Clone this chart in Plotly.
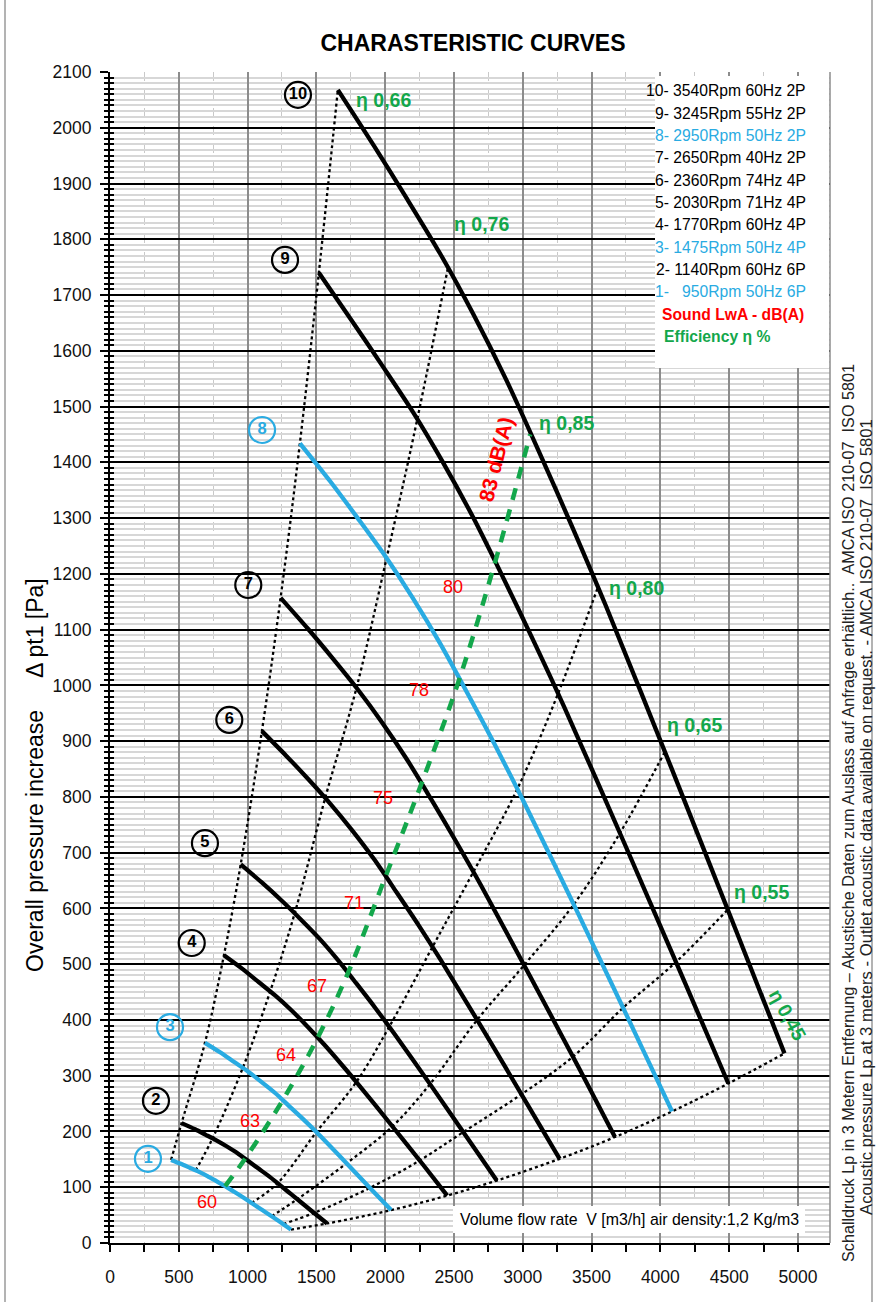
import subprocess
import plotly.graph_objects as go

# ---------------- data ----------------
# fan curves: volume flow Q [m3/h] and pressure pt1 [Pa]
q1 = [444, 515, 580, 644, 708, 773, 837, 902, 966, 1095, 1224, 1315]
p1 = [149, 142, 135, 128, 120, 111, 102, 92, 82, 61, 40, 24]
q2 = [520, 618, 696, 773, 850, 927, 1005, 1082, 1159, 1314, 1468, 1578]
p2 = [215, 204, 194, 184, 173, 161, 147, 133, 119, 88, 57, 35]
q3 = [690, 800, 900, 1000, 1100, 1200, 1300, 1400, 1500, 1700, 1900, 2043]
p3 = [359, 342, 325, 308, 289, 269, 246, 223, 199, 148, 96, 59]
q4 = [828, 960, 1080, 1200, 1320, 1440, 1560, 1680, 1800, 2040, 2280, 2451]
p4 = [516, 492, 468, 444, 417, 387, 355, 321, 286, 213, 139, 85]
q5 = [950, 1101, 1239, 1376, 1514, 1651, 1789, 1927, 2064, 2340, 2615, 2811]
p5 = [679, 647, 616, 583, 548, 509, 466, 422, 376, 280, 182, 112]
q6 = [1104, 1280, 1440, 1600, 1760, 1920, 2080, 2240, 2400, 2720, 3040, 3268]
p6 = [918, 874, 832, 788, 740, 688, 630, 571, 509, 379, 246, 151]
q7 = [1240, 1437, 1617, 1797, 1976, 2156, 2336, 2515, 2695, 3054, 3414, 3670]
p7 = [1157, 1102, 1049, 994, 934, 868, 795, 720, 642, 478, 311, 190]
q8 = [1380, 1600, 1800, 2000, 2200, 2400, 2600, 2800, 3000, 3400, 3800, 4085]
p8 = [1434, 1366, 1300, 1232, 1157, 1075, 985, 892, 795, 592, 385, 236]
q9 = [1518, 1760, 1980, 2200, 2420, 2640, 2860, 3080, 3300, 3740, 4180, 4494]
p9 = [1740, 1653, 1573, 1491, 1400, 1301, 1192, 1079, 962, 716, 466, 286]
q10 = [1656, 1920, 2160, 2400, 2640, 2880, 3120, 3360, 3600, 4080, 4560, 4902]
p10 = [2068, 1967, 1872, 1774, 1666, 1548, 1418, 1284, 1145, 852, 554, 340]

# efficiency lines (points where they cross curves 1..10)
eta066_q = [444, 520, 690, 828, 950, 1104, 1240, 1380, 1518, 1656]
eta066_p = [149, 215, 359, 516, 679, 918, 1157, 1434, 1740, 2068]
eta076_q = [622, 746, 965, 1164, 1342, 1564, 1792, 2010, 2233, 2456]
eta076_p = [130, 188, 314, 451, 591, 798, 996, 1228, 1477, 1749]
eta080_q = [1030, 1217, 1500, 1791, 2030, 2344, 2640, 2960, 3256, 3546]
eta080_p = [72, 107, 199, 289, 388, 531, 665, 814, 985, 1176]
eta065_q = [1175, 1364, 1720, 2052, 2326, 2668, 3009, 3370, 3706, 4033]
eta065_p = [48, 79, 143, 209, 285, 400, 498, 607, 735, 881]
eta055_q = [1259, 1484, 1890, 2250, 2568, 2992, 3364, 3730, 4114, 4490]
eta055_p = [34, 54, 99, 148, 199, 267, 334, 422, 504, 598]
eta045_q = [1315, 1578, 2043, 2451, 2811, 3268, 3670, 4085, 4494, 4902]
eta045_p = [24, 35, 59, 85, 112, 151, 190, 236, 286, 340]
# best-efficiency / sound line (green dashed)
eta085_q = [837, 982, 1255, 1509, 1731, 2004, 2264, 2540, 2800, 3054]
eta085_p = [102, 151, 256, 368, 485, 658, 824, 1012, 1222, 1450]

# curve number labels
circ_text = ["1", "2", "3", "4", "5", "6", "7", "8", "9", "10"]
circ_q = [276, 334, 436, 594, 690, 867, 1005, 1105, 1272, 1366]
circ_p = [151, 255, 387, 538, 717, 938, 1180, 1458, 1763, 2059]

# sound level labels
db_text = ["60", "63", "64", "67", "71", "75", "78", "80"]
db_q = [703, 1017, 1279, 1502, 1773, 1981, 2248, 2495]
db_p = [74, 218, 338, 461, 610, 798, 992, 1176]
db_top_text = "83 dB(A)"
db_top_q = 2805
db_top_p = 1405

# efficiency labels
eta_text = ["η 0,66", "η 0,76", "η 0,85", "η 0,80", "η 0,65", "η 0,55"]
eta_q = [1986, 2701, 3321, 3828, 4251, 4736]
eta_p = [2050, 1827, 1471, 1174, 929, 630]
eta045_text = "η 0,45"
eta045_lq = 4927
eta045_lp = 409

legend_lines = ["10- 3540Rpm 60Hz 2P", "9- 3245Rpm 55Hz 2P", "8- 2950Rpm 50Hz 2P",
                "7- 2650Rpm 40Hz 2P", "6- 2360Rpm 74Hz 4P", "5- 2030Rpm 71Hz 4P",
                "4- 1770Rpm 60Hz 4P", "3- 1475Rpm 50Hz 4P", "2- 1140Rpm 60Hz 6P",
                "1-\u00a0\u00a0 950Rpm 50Hz 6P"]

x_ticks = [0, 500, 1000, 1500, 2000, 2500, 3000, 3500, 4000, 4500, 5000]

# ---------------- styling ----------------
BLACK = "#000000"
BLUE = "#29ABE2"
GREEN = "#13A74B"
RED = "#FF0000"

try:
    fams = subprocess.run(["fc-list", ":", "family"], capture_output=True, text=True).stdout
except Exception:
    fams = ""
HAS_NARROW = "Liberation Sans Narrow" in fams
BASE = "Liberation Sans, Arial, sans-serif"
NARROW = "Liberation Sans Narrow, Liberation Sans, Arial, sans-serif" if HAS_NARROW else BASE
LEG_SIZE = 18.5 if HAS_NARROW else 15.7

W, H = 876, 1302
L, R, T, B = 110, 46, 72, 59
PW, PH = W - L - R, H - T - B


def px_x(px):
    return (px - L) / PW


def px_y(py):
    return (H - B - py) / PH


fig = go.Figure()

# efficiency (dotted) lines
for qq, pp in [(eta066_q, eta066_p), (eta076_q, eta076_p), (eta080_q, eta080_p),
               (eta065_q, eta065_p), (eta055_q, eta055_p), (eta045_q, eta045_p)]:
    fig.add_trace(go.Scatter(x=qq, y=pp, mode="lines",
                             line=dict(color=BLACK, width=2.3, dash="dot", shape="spline"),
                             hoverinfo="skip"))

# fan curves
curves = [(q1, p1, BLUE), (q2, p2, BLACK), (q3, p3, BLUE), (q4, p4, BLACK), (q5, p5, BLACK),
          (q6, p6, BLACK), (q7, p7, BLACK), (q8, p8, BLUE), (q9, p9, BLACK), (q10, p10, BLACK)]
for qq, pp, col in curves:
    fig.add_trace(go.Scatter(x=qq, y=pp, mode="lines",
                             line=dict(color=col, width=4.3, shape="spline", smoothing=0.8),
                             hoverinfo="skip"))

# green dashed best-efficiency line
fig.add_trace(go.Scatter(x=eta085_q, y=eta085_p, mode="lines",
                         line=dict(color=GREEN, width=4.5, dash="12px,10px", shape="spline"),
                         hoverinfo="skip"))

# circled curve numbers
circ_cols = [BLUE if t in ("1", "3", "8") else BLACK for t in circ_text]
fig.add_trace(go.Scatter(x=circ_q, y=circ_p, mode="markers+text",
                         text=["<b>%s</b>" % t for t in circ_text],
                         textposition="middle center",
                         textfont=dict(size=16.5, color=circ_cols, family=BASE),
                         marker=dict(symbol="circle-open", size=26, color=circ_cols,
                                     line=dict(width=2.2, color=circ_cols)),
                         hoverinfo="skip"))

# dummy trace for the inner tick axis
fig.add_trace(go.Scatter(x=[None], y=[None], yaxis="y2", showlegend=False, hoverinfo="skip"))

annotations = []
for t, q, p in zip(db_text, db_q, db_p):
    annotations.append(dict(x=q, y=p, xref="x", yref="y", text=t, showarrow=False,
                            xanchor="center", yanchor="middle",
                            font=dict(size=18, color=RED, family=BASE)))
annotations.append(dict(x=db_top_q, y=db_top_p, xref="x", yref="y", text="<b>%s</b>" % db_top_text,
                        showarrow=False, textangle=-76, xanchor="center", yanchor="middle",
                        font=dict(size=21, color=RED, family=BASE)))
for t, q, p in zip(eta_text, eta_q, eta_p):
    annotations.append(dict(x=q, y=p, xref="x", yref="y", text="<b>%s</b>" % t, showarrow=False,
                            xanchor="center", yanchor="middle",
                            font=dict(size=19.5, color=GREEN, family=BASE)))
annotations.append(dict(x=eta045_lq, y=eta045_lp, xref="x", yref="y", text="<b>%s</b>" % eta045_text,
                        showarrow=False, textangle=61, xanchor="center", yanchor="middle",
                        font=dict(size=19.5, color=GREEN, family=BASE)))

# legend box text
leg_cols = [BLACK, BLACK, BLUE, BLACK, BLACK, BLACK, BLACK, BLUE, BLACK, BLUE]
for i, (t, c) in enumerate(zip(legend_lines, leg_cols)):
    annotations.append(dict(x=px_x(808), y=px_y(91 + 22.3 * i), xref="paper", yref="paper",
                            xanchor="right", yanchor="middle", text=t, showarrow=False,
                            font=dict(size=LEG_SIZE, color=c, family=NARROW)))
annotations.append(dict(x=px_x(806), y=px_y(91 + 22.3 * 10), xref="paper", yref="paper",
                        xanchor="right", yanchor="middle", text="<b>Sound LwA - dB(A)</b>",
                        showarrow=False, font=dict(size=LEG_SIZE, color=RED, family=NARROW)))
annotations.append(dict(x=px_x(662), y=px_y(91 + 22.3 * 11), xref="paper", yref="paper",
                        xanchor="left", yanchor="middle", text="<b>Efficiency η %</b>",
                        showarrow=False, font=dict(size=LEG_SIZE, color=GREEN, family=NARROW)))

# x-axis caption box
annotations.append(dict(x=px_x(629), y=px_y(1219), xref="paper", yref="paper",
                        xanchor="center", yanchor="middle",
                        text="Volume flow rate\u00a0 V [m3/h] air density:1,2 Kg/m3", showarrow=False,
                        font=dict(size=LEG_SIZE if HAS_NARROW else 15.9, color=BLACK, family=NARROW)))

# y axis title
annotations.append(dict(x=px_x(35), y=px_y(775), xref="paper", yref="paper", textangle=-90,
                        xanchor="center", yanchor="middle",
                        text="Overall pressure increase\u00a0\u00a0\u00a0\u00a0 Δ pt1 [Pa]", showarrow=False,
                        font=dict(size=23, color=BLACK, family=BASE)))

# right-side vertical notes
annotations.append(dict(x=px_x(848), y=px_y(813), xref="paper", yref="paper", textangle=-90,
                        xanchor="center", yanchor="middle",
                        text="Schalldruck Lp in 3 Metern Entfernung – Akustische Daten zum Auslass auf Anfrage erhältlich..\u00a0 AMCA ISO 210-07\u00a0 ISO 5801",
                        showarrow=False, font=dict(size=16.2, color="#222222", family=BASE)))
annotations.append(dict(x=px_x(866), y=px_y(817), xref="paper", yref="paper", textangle=-90,
                        xanchor="center", yanchor="middle",
                        text="Acoustic pressure Lp at 3 meters - Outlet acoustic data available on request. - AMCA ISO 210-07\u00a0 ISO 5801",
                        showarrow=False, font=dict(size=16.7, color="#222222", family=BASE)))

shapes = [
    dict(type="rect", xref="paper", yref="paper", x0=px_x(655), x1=px_x(829), y0=px_y(368), y1=px_y(76),
         fillcolor="white", line=dict(width=0), layer="above"),
    dict(type="rect", xref="paper", yref="paper", x0=px_x(453), x1=px_x(805), y0=px_y(1233), y1=px_y(1206),
         fillcolor="white", line=dict(width=0), layer="above"),
    dict(type="line", xref="paper", yref="paper", x0=1, x1=1, y0=0, y1=1,
         line=dict(color="#8c8c8c", width=1.5), layer="above"),
    dict(type="line", xref="paper", yref="paper", x0=px_x(5), x1=px_x(5), y0=px_y(1302), y1=px_y(0),
         line=dict(color="#9a9a9a", width=1.5)),
    dict(type="line", xref="paper", yref="paper", x0=px_x(872), x1=px_x(872), y0=px_y(1302), y1=px_y(0),
         line=dict(color="#9a9a9a", width=1.5)),
]

fig.update_layout(
    width=W, height=H,
    margin=dict(l=L, r=R, t=T, b=B),
    paper_bgcolor="white", plot_bgcolor="white",
    showlegend=False,
    font=dict(family=BASE, color=BLACK),
    title=dict(text="<b>CHARASTERISTIC CURVES</b>", x=473 / W, xanchor="center",
               y=1 - 43 / H, yanchor="middle", font=dict(size=23, color=BLACK)),
    xaxis=dict(range=[0, 5233], tickvals=x_ticks, showgrid=True, gridcolor="#8c8c8c", gridwidth=1.5,
               ticks="outside", ticklen=7, tickwidth=1.5, tickcolor=BLACK, ticklabelstandoff=10,
               showline=True, linecolor=BLACK, linewidth=2, zeroline=False,
               tickfont=dict(size=17.5, color="#111111"),
               minor=dict(dtick=250, tick0=0, ticks="outside", ticklen=7, tickcolor=BLACK,
                          showgrid=True, gridcolor="#c9c9c9", griddash="dash", gridwidth=1.2)),
    yaxis=dict(range=[0, 2100], dtick=100, tick0=0, showgrid=True, gridcolor=BLACK, gridwidth=1.5,
               ticks="outside", ticklen=8, tickwidth=1.5, tickcolor=BLACK, ticklabelstandoff=5,
               showline=True, linecolor=BLACK, linewidth=2, zeroline=False,
               tickfont=dict(size=17.5, color="#111111"),
               minor=dict(dtick=10, tick0=0, ticks="outside", ticklen=4, tickcolor=BLACK,
                          showgrid=True, gridcolor="#d7d7d7", gridwidth=2.2)),
    yaxis2=dict(range=[0, 2100], overlaying="y", side="left", dtick=100, tick0=0,
                ticks="inside", ticklen=8, tickwidth=1.5, tickcolor=BLACK,
                showticklabels=False, showgrid=False, zeroline=False, showline=False,
                minor=dict(dtick=10, tick0=0, ticks="inside", ticklen=4, tickcolor=BLACK, showgrid=False)),
    annotations=annotations,
    shapes=shapes,
)

fig.write_html("out.html", config={"displayModeBar": False},
               post_script="document.body.style.margin='0';document.body.style.overflow='hidden';")
